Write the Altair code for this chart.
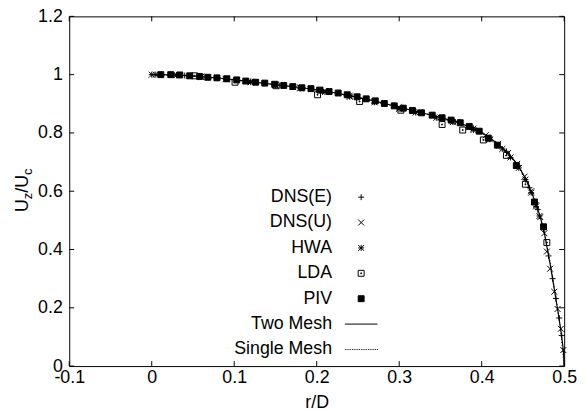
import altair as alt
import pandas as pd

# ---------------- data ----------------
series_order = ["DNS(E)", "DNS(U)", "HWA", "LDA", "PIV", "Two Mesh", "Single Mesh"]

two_mesh_r = [0.0, 0.03, 0.06, 0.09, 0.12, 0.15, 0.18, 0.21, 0.24, 0.27, 0.30, 0.325, 0.35,
              0.37, 0.39, 0.405, 0.42, 0.432, 0.443, 0.452, 0.46, 0.466, 0.471, 0.476, 0.479,
              0.483, 0.488, 0.492, 0.496, 0.499, 0.5]
two_mesh_u = [1.0, 0.999, 0.993, 0.986, 0.976, 0.966, 0.956, 0.944, 0.928, 0.910, 0.888, 0.871,
              0.853, 0.838, 0.815, 0.792, 0.762, 0.731, 0.694, 0.650, 0.600, 0.555, 0.512, 0.458,
              0.410, 0.350, 0.265, 0.195, 0.122, 0.055, 0.0]

single_mesh_r = [0.0, 0.05, 0.1, 0.15, 0.2, 0.25, 0.3, 0.35, 0.4, 0.42, 0.44, 0.45, 0.46, 0.47,
                 0.475, 0.48, 0.485, 0.49, 0.495, 0.5]
single_mesh_u = [1.0, 0.995, 0.981, 0.966, 0.949, 0.921, 0.888, 0.853, 0.799, 0.762, 0.704,
                 0.660, 0.600, 0.522, 0.470, 0.400, 0.325, 0.232, 0.140, 0.0]

dnse_r = [0.0, 0.04, 0.08, 0.12, 0.16, 0.2, 0.24, 0.28, 0.32, 0.36, 0.39, 0.41, 0.43, 0.445,
          0.458, 0.468, 0.475, 0.481, 0.486, 0.49, 0.494, 0.497]
dnse_u = [1.0, 0.997, 0.989, 0.977, 0.963, 0.948, 0.929, 0.903, 0.874, 0.845, 0.816, 0.784,
          0.737, 0.688, 0.612, 0.537, 0.470, 0.378, 0.300, 0.232, 0.165, 0.105]

dnsu_r = [0.0, 0.03, 0.06, 0.09, 0.12, 0.15, 0.18, 0.21, 0.24, 0.27, 0.30, 0.325, 0.35, 0.37,
          0.39, 0.405, 0.42, 0.432, 0.443, 0.452, 0.46, 0.466, 0.471, 0.476, 0.479, 0.483,
          0.488, 0.492, 0.496, 0.499]
dnsu_u = [1.0, 0.999, 0.993, 0.986, 0.976, 0.966, 0.956, 0.944, 0.928, 0.910, 0.888, 0.871,
          0.853, 0.838, 0.815, 0.792, 0.762, 0.731, 0.694, 0.650, 0.600, 0.552, 0.511, 0.456,
          0.393, 0.334, 0.255, 0.196, 0.128, 0.055]

hwa_r = [0.005, 0.03, 0.06, 0.09, 0.12, 0.15, 0.18, 0.21, 0.24, 0.27, 0.30, 0.32, 0.345, 0.365,
         0.39, 0.41, 0.425, 0.435, 0.445, 0.453, 0.46, 0.466, 0.47]
hwa_u = [1.0, 0.998, 0.992, 0.984, 0.974, 0.963, 0.953, 0.940, 0.924, 0.905, 0.883, 0.870,
         0.852, 0.837, 0.810, 0.778, 0.745, 0.716, 0.680, 0.640, 0.595, 0.548, 0.515]

lda_r = [0.052, 0.101, 0.151, 0.201, 0.252, 0.302, 0.352, 0.377, 0.402, 0.430, 0.453, 0.479]
lda_u = [0.996, 0.974, 0.962, 0.931, 0.908, 0.878, 0.829, 0.810, 0.776, 0.723, 0.624, 0.424]

piv_r = [0.011, 0.023, 0.034, 0.046, 0.058, 0.068, 0.079, 0.091, 0.103, 0.114, 0.126, 0.137,
         0.149, 0.160, 0.171, 0.182, 0.193, 0.204, 0.215, 0.226, 0.237, 0.249, 0.260, 0.271,
         0.282, 0.294, 0.305, 0.316, 0.327, 0.340, 0.352, 0.363, 0.374, 0.385, 0.397, 0.408,
         0.419, 0.442, 0.464, 0.475]
piv_u = [1.000, 1.000, 0.999, 0.996, 0.994, 0.991, 0.989, 0.986, 0.982, 0.978, 0.974, 0.971,
         0.967, 0.963, 0.959, 0.955, 0.952, 0.947, 0.942, 0.937, 0.931, 0.924, 0.917, 0.910,
         0.901, 0.893, 0.885, 0.877, 0.869, 0.861, 0.852, 0.844, 0.835, 0.822, 0.806, 0.782,
         0.758, 0.688, 0.563, 0.478]

x_ticks = [-0.1, 0.0, 0.1, 0.2, 0.3, 0.4, 0.5]
y_ticks = [0.0, 0.2, 0.4, 0.6, 0.8, 1.0, 1.2]

# ---------------- frames ----------------
two_df = pd.DataFrame({"r": two_mesh_r, "u": two_mesh_u})
single_df = pd.DataFrame({"r": single_mesh_r, "u": single_mesh_u})
pts = []
for name, rr, uu in [("DNS(E)", dnse_r, dnse_u), ("DNS(U)", dnsu_r, dnsu_u),
                     ("HWA", hwa_r, hwa_u), ("LDA", lda_r, lda_u), ("PIV", piv_r, piv_u)]:
    pts.append(pd.DataFrame({"r": rr, "u": uu, "series": name}))
pts_df = pd.concat(pts, ignore_index=True)
xt_df = pd.DataFrame({"r": x_ticks})
yt_df = pd.DataFrame({"u": y_ticks})

# ---------------- style ----------------
W, H = 501, 354
FONT = "Liberation Sans"
FS = 18

xscale = alt.Scale(domain=[-0.1, 0.5], nice=False, zero=False)
yscale = alt.Scale(domain=[0, 1.2], nice=False, zero=False)

x_axis = alt.Axis(values=x_ticks, title="r/D", labelFlush=False, labelPadding=3,
                  labelExpr="datum.value < 0 ? '-' + format(-datum.value, '~g') : format(datum.value, '~g')",
                  titleY=37, titleBaseline="middle",
                  labelFont=FONT, labelFontSize=FS, labelColor="black",
                  titleFont=FONT, titleFontSize=FS, titleFontWeight="normal", titleColor="black")
y_axis = alt.Axis(values=y_ticks, title=None, labelFlush=False, labelPadding=7, format="~g",
                  labelFont=FONT, labelFontSize=FS, labelColor="black")

X = alt.X("r:Q", scale=xscale, axis=x_axis)
Y = alt.Y("u:Q", scale=yscale, axis=y_axis)

dots = "".join("M%.2f,0h0.3" % (-5.5 + 0.6 * i) for i in range(19))
shape_range = [
    "M-1,0H1M0,-1V1",
    "M-1,-1L1,1M-1,1L1,-1",
    "M-1,0H1M0,-1V1M-1,-1L1,1M-1,1L1,-1",
    "M-1,-1H1V1H-1ZM-0.15,-0.15H0.15V0.15H-0.15Z",
    "M-1,-1H1V1H-1Z",
    "M-5.5,0H5.5",
    dots,
]
fill_range = ["transparent", "transparent", "transparent", "transparent", "black",
              "transparent", "transparent"]
stroke_range = ["black"] * 7

legend = alt.Legend(title=None, orient="none", legendX=286.5, legendY=174,
                    labelAlign="right", labelOffset={"expr": "-38.5"}, labelFont=FONT, labelFontSize=FS,
                    labelColor="black", rowPadding=7.7, symbolSize=36, symbolStrokeWidth=1,
                    symbolStrokeColor="black", padding=0, labelLimit=300)

single_line = alt.Chart(single_df).mark_line(color="black", strokeWidth=1, strokeDash=[1, 2]).encode(
    x=X, y=Y)
two_line = alt.Chart(two_df).mark_line(color="black", strokeWidth=1.2).encode(x=X, y=Y)
points = alt.Chart(pts_df).mark_point(strokeWidth=1, size=36, opacity=1).encode(
    x=X, y=Y,
    shape=alt.Shape("series:N", scale=alt.Scale(domain=series_order, range=shape_range), legend=legend),
    fill=alt.Fill("series:N", scale=alt.Scale(domain=series_order, range=fill_range), legend=legend),
    stroke=alt.Stroke("series:N", scale=alt.Scale(domain=series_order, range=stroke_range), legend=legend),
)

TL = 5
ticks_left = alt.Chart(yt_df).mark_rule(color="black", strokeWidth=1).encode(
    y=Y, x=alt.value(0), x2=alt.value(TL))
ticks_right = alt.Chart(yt_df).mark_rule(color="black", strokeWidth=1).encode(
    y=Y, x=alt.value(W - TL), x2=alt.value(W))
ticks_bottom = alt.Chart(xt_df).mark_rule(color="black", strokeWidth=1).encode(
    x=X, y=alt.value(H - TL), y2=alt.value(H))
ticks_top = alt.Chart(xt_df).mark_rule(color="black", strokeWidth=1).encode(
    x=X, y=alt.value(0), y2=alt.value(TL))

# y-axis title U_z/U_c built from pieces (rotated, reading upwards)
def piece(txt, xpos, ypos, size):
    return alt.Chart(pd.DataFrame({"t": [txt]})).mark_text(
        angle=270, align="left", baseline="middle", font=FONT, fontSize=size, color="black"
    ).encode(text="t:N", x=alt.value(xpos), y=alt.value(ypos))

XT = -47
title_parts = [
    piece("U", XT, 198, FS),
    piece("z", XT + 5, 185, 13),
    piece("/", XT, 178.5, FS),
    piece("U", XT, 173.5, FS),
    piece("c", XT + 5, 160.5, 13),
]

chart = alt.layer(single_line, two_line, points, ticks_left, ticks_right, ticks_bottom, ticks_top,
                  *title_parts).properties(
    width=W, height=H,
    background="white",
    autosize=alt.AutoSizeParams(type="none"),
    padding={"left": 62, "top": 6, "right": 14, "bottom": 43},
).configure_view(stroke="black", strokeWidth=1).configure_axis(
    grid=False, domain=False, ticks=False, tickSize=0,
    labelFont=FONT, labelFontSize=FS, labelColor="black",
    titleFont=FONT, titleFontSize=FS, titleFontWeight="normal", titleColor="black",
)

chart.save("out.html", embed_options={"renderer": "svg", "actions": False})
